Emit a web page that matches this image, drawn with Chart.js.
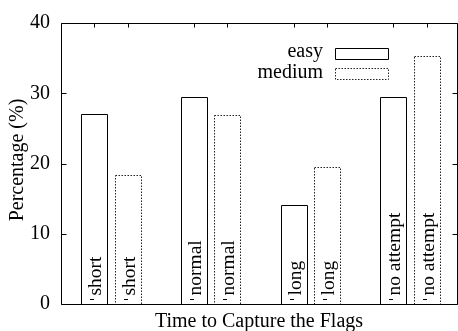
<!DOCTYPE html>
<html>
<head>
<meta charset="utf-8">
<style>
  html, body { margin: 0; padding: 0; background: #fff; overflow: hidden; }
  #clip { width: 458px; height: 331px; overflow: hidden; position: relative; }
  #box { width: 462px; height: 331px; position: absolute; left: 0; top: 0; }
  #warm { position: absolute; left: -999px; top: 0; font-family: "Liberation Serif"; font-size: 20px; }
</style>
</head>
<body>
<div id="warm">Percentage 0123456789</div>
<div id="clip">
  <div id="box"><canvas id="flagsChart"></canvas></div>
</div>

<script src="https://cdn.jsdelivr.net/npm/chart.js"></script>
<script>
// data
const categories = ['short', 'normal', 'long', 'no attempt'];
const easyValues = [27.0, 29.5, 14.1, 29.5];
const mediumValues = [18.3, 26.9, 19.5, 35.3];
const yTicks = [0, 10, 20, 30, 40];
const seriesNames = ['easy', 'medium'];

const SERIF = '"Liberation Serif", "Times New Roman", serif';
const FRAME_RIGHT = 457.5;

// gnuplot-ish frame, ticks, bar outlines, labels and legend
const gnuplotLook = {
    id: 'gnuplotLook',
    afterDatasetsDraw(chart) {
        const ctx = chart.ctx;
        const area = chart.chartArea;
        const yScale = chart.scales.y;
        const left = area.left + 0.5;
        const top = Math.round(area.top) + 0.5;
        const bottom = Math.round(area.bottom) + 0.5;

        ctx.save();

        // bar outlines
        const centers = [];
        chart.data.datasets.forEach((ds, di) => {
            const meta = chart.getDatasetMeta(di);
            meta.data.forEach((el, i) => {
                const p = el.getProps(['x', 'y', 'base', 'width'], true);
                const x0 = Math.round(p.x - p.width / 2) + 0.5;
                const x1 = Math.round(p.x + p.width / 2) + 0.5;
                const y0 = Math.round(p.y) + 0.5;
                centers.push({ x: p.x, label: categories[i] });
                ctx.beginPath();
                ctx.lineWidth = 1;
                if (di === 1) {
                    ctx.setLineDash([1.5, 1.5]);
                    ctx.strokeStyle = '#222';
                } else {
                    ctx.setLineDash([]);
                    ctx.strokeStyle = '#000';
                }
                ctx.rect(x0, y0, x1 - x0, bottom - y0);
                ctx.stroke();
            });
        });
        ctx.setLineDash([]);

        // frame
        ctx.strokeStyle = '#000';
        ctx.lineWidth = 1;
        ctx.beginPath();
        ctx.rect(left, top, FRAME_RIGHT - left, bottom - top);
        ctx.stroke();

        // y ticks, inward on both sides
        ctx.beginPath();
        yTicks.forEach(v => {
            const y = Math.round(yScale.getPixelForValue(v)) + 0.5;
            ctx.moveTo(left, y); ctx.lineTo(left + 5, y);
            ctx.moveTo(FRAME_RIGHT, y); ctx.lineTo(FRAME_RIGHT - 5, y);
        });
        // top ticks at every bar
        centers.forEach(c => {
            const x = Math.round(c.x) + 0.5;
            ctx.moveTo(x, top); ctx.lineTo(x, top + 4);
        });
        ctx.stroke();

        // category labels, rotated inside the bars
        ctx.fillStyle = '#000';
        ctx.font = '19.5px ' + SERIF;
        centers.forEach(c => {
            ctx.save();
            ctx.translate(c.x + 7, bottom - 9);
            ctx.rotate(-Math.PI / 2);
            ctx.textAlign = 'left';
            ctx.textBaseline = 'alphabetic';
            ctx.fillText(c.label, 0, 0);
            ctx.restore();
            ctx.beginPath();
            ctx.moveTo(Math.round(c.x) - 4, bottom - 5);
            ctx.lineTo(Math.round(c.x), bottom - 5);
            ctx.stroke();
        });

        // axis titles
        ctx.font = '20px ' + SERIF;
        ctx.textAlign = 'center';
        ctx.textBaseline = 'alphabetic';
        ctx.fillText('Time to Capture the Flags', 259, 327);
        ctx.save();
        ctx.translate(23, 160);
        ctx.rotate(-Math.PI / 2);
        ctx.fillText('Percentage (%)', 0, 0);
        ctx.restore();

        // legend
        ctx.textAlign = 'right';
        const legendRows = [{ base: 57, boxTop: 48.5 }, { base: 78, boxTop: 68.5 }];
        seriesNames.forEach((name, i) => {
            const row = legendRows[i];
            ctx.fillText(name, 323, row.base);
            ctx.beginPath();
            if (i === 1) {
                ctx.setLineDash([1.5, 1.5]);
                ctx.strokeStyle = '#222';
            } else {
                ctx.setLineDash([]);
                ctx.strokeStyle = '#000';
            }
            ctx.rect(335.5, row.boxTop, 53, 11);
            ctx.stroke();
        });

        ctx.restore();
    }
};

function buildChart() {
    const ctx = document.getElementById('flagsChart').getContext('2d');
    return new Chart(ctx, {
        type: 'bar',
        data: {
            labels: categories,
            datasets: [
                {
                    label: seriesNames[0],
                    data: easyValues,
                    backgroundColor: 'rgba(0,0,0,0)',
                    borderWidth: 0
                },
                {
                    label: seriesNames[1],
                    data: mediumValues,
                    backgroundColor: 'rgba(0,0,0,0)',
                    borderWidth: 0
                }
            ]
        },
        options: {
            responsive: true,
            maintainAspectRatio: false,
            animation: false,
            events: [],
            layout: {
                padding: { left: 0, right: 2, top: 15, bottom: 0 }
            },
            plugins: {
                legend: { display: false },
                tooltip: { enabled: false },
                title: { display: false }
            },
            datasets: {
                bar: {
                    categoryPercentage: 0.668,
                    barPercentage: 0.78
                }
            },
            scales: {
                x: {
                    grid: { display: false },
                    border: { display: false },
                    ticks: { display: false },
                    afterFit(scale) { scale.height = 27; }
                },
                y: {
                    min: 0,
                    max: 40,
                    grid: { display: false, drawTicks: false },
                    border: { display: false },
                    afterBuildTicks(scale) {
                        scale.ticks = yTicks.map(v => ({ value: v }));
                    },
                    ticks: {
                        color: '#000',
                        padding: 11,
                        font: { family: SERIF, size: 20 }
                    },
                    afterFit(scale) { scale.width = 61; }
                }
            }
        },
        plugins: [gnuplotLook]
    });
}

// make sure the serif face is ready before the canvas draws text
document.fonts.load('20px "Liberation Serif"').then(buildChart, buildChart);
</script>
</body>
</html>
